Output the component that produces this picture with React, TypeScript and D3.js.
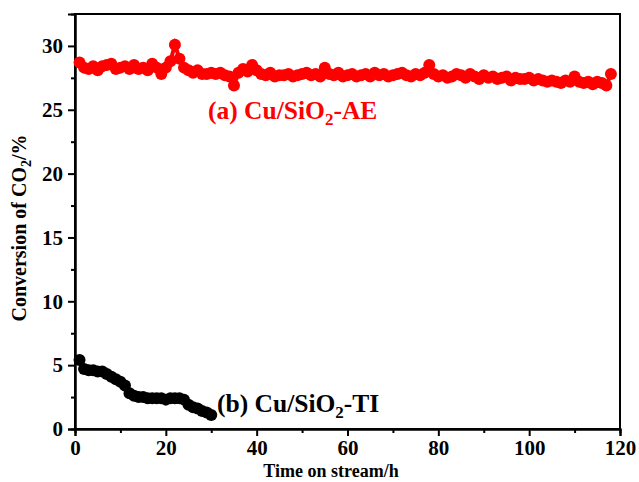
import React, { useEffect, useRef } from 'react';
import * as d3 from 'd3';

// time on stream (h) and CO2 conversion (%)
const timeAE = d3.range(1, 119);
const convAE = [
  28.7, 28.3, 28.2, 28.4, 28.1, 28.4, 28.5, 28.6, 28.2, 28.3,
  28.4, 28.2, 28.5, 28.2, 28.3, 28.1, 28.6, 28.3, 27.8, 28.3,
  28.8, 30.1, 29.0, 28.3, 28.1, 27.9, 28.1, 27.8, 27.8, 27.9,
  27.8, 27.9, 27.7, 27.6, 26.9, 27.9, 28.2, 28.0, 28.5, 28.1,
  27.8, 27.7, 27.9, 27.6, 27.7, 27.7, 27.8, 27.6, 27.7, 27.8,
  27.9, 27.7, 27.8, 27.6, 28.3, 27.8, 27.7, 27.9, 27.6, 27.7,
  27.8, 27.6, 27.7, 27.8, 27.6, 27.9, 27.7, 27.8, 27.6, 27.7,
  27.8, 27.9, 27.7, 27.6, 27.8, 27.7, 27.9, 28.5, 27.8, 27.6,
  27.7, 27.5, 27.6, 27.8, 27.7, 27.5, 27.8, 27.6, 27.4, 27.7,
  27.5, 27.6, 27.4, 27.5, 27.6, 27.3, 27.5, 27.4, 27.4, 27.5,
  27.3, 27.4, 27.3, 27.2, 27.3, 27.2, 27.1, 27.3, 27.2, 27.6,
  27.2, 27.1, 27.2, 27.0, 27.2, 27.1, 26.9, 27.8,
];
const timeTI = d3.range(1, 31);
const convTI = [
  5.4, 4.7, 4.6, 4.6, 4.5, 4.5, 4.3, 4.1, 3.9, 3.7,
  3.4, 2.8, 2.6, 2.5, 2.5, 2.4, 2.4, 2.4, 2.4, 2.3,
  2.4, 2.4, 2.4, 2.3, 1.9, 1.7, 1.6, 1.4, 1.3, 1.1,
];
const xTicks = [0, 20, 40, 60, 80, 100, 120];
const yTicks = [0, 5, 10, 15, 20, 25, 30];

export default function App() {
  const svgRef = useRef<SVGSVGElement>(null);

  useEffect(() => {
    const width = 639;
    const height = 482;
    const m = { left: 75, right: 19, top: 14, bottom: 53 };
    const font = '"Liberation Serif", "Times New Roman", serif';

    const svg = d3.select(svgRef.current)
      .attr('width', width)
      .attr('height', height)
      .style('background', '#fff');
    svg.selectAll('*').remove();

    const x = d3.scaleLinear().domain([0, 120]).range([m.left, width - m.right]);
    const y = d3.scaleLinear().domain([0, 32.5]).range([height - m.bottom, m.top]);

    // frame
    svg.append('rect')
      .attr('x', m.left).attr('y', m.top)
      .attr('width', width - m.left - m.right)
      .attr('height', height - m.top - m.bottom)
      .attr('fill', 'none').attr('stroke', '#000').attr('stroke-width', 2);

    // axes: major + minor ticks, outward
    const xAxis = svg.append('g')
      .attr('transform', `translate(0,${height - m.bottom})`)
      .call(d3.axisBottom(x).tickValues(xTicks).tickSize(7).tickPadding(4));
    svg.append('g')
      .attr('transform', `translate(0,${height - m.bottom})`)
      .call(d3.axisBottom(x).tickValues(d3.range(10, 120, 20)).tickSize(4).tickFormat(() => ''));
    const yAxis = svg.append('g')
      .attr('transform', `translate(${m.left},0)`)
      .call(d3.axisLeft(y).tickValues(yTicks).tickSize(7).tickPadding(5));
    svg.append('g')
      .attr('transform', `translate(${m.left},0)`)
      .call(d3.axisLeft(y).tickValues(d3.range(2.5, 32.5, 5)).tickSize(4).tickFormat(() => ''));

    svg.selectAll('.domain').attr('stroke-width', 2);
    svg.selectAll('.tick line').attr('stroke-width', 2);
    [xAxis, yAxis].forEach(g => g.selectAll('text')
      .attr('font-family', font).attr('font-weight', 'bold').attr('font-size', 21).attr('fill', '#000'));

    // series
    const series = [
      { t: timeAE, v: convAE, color: '#ff0000' },
      { t: timeTI, v: convTI, color: '#000000' },
    ];
    series.forEach(s => {
      const pts = s.t.map((t, i) => [t, s.v[i]] as [number, number]);
      svg.append('path')
        .attr('d', d3.line().x(d => x(d[0])).y(d => y(d[1]))(pts))
        .attr('fill', 'none').attr('stroke', s.color).attr('stroke-width', 4);
      svg.append('g').selectAll('circle')
        .data(pts)
        .join('circle')
          .attr('cx', d => x(d[0]))
          .attr('cy', d => y(d[1]))
          .attr('r', 6)
          .attr('fill', s.color);
    });

    // series labels
    const label = (tx: number, ty: number, pre: string, post: string, color: string) => {
      const t = svg.append('text')
        .attr('x', tx).attr('y', ty)
        .attr('font-family', font).attr('font-weight', 'bold').attr('font-size', 25.5)
        .attr('fill', color);
      t.append('tspan').text(pre);
      t.append('tspan').attr('font-size', 17).attr('dy', 6).text('2');
      t.append('tspan').attr('dy', -6).text(post);
    };
    label(208, 119, '(a) Cu/SiO', '-AE', '#ff0000');
    label(217, 412, '(b) Cu/SiO', '-TI', '#000000');

    // axis titles
    svg.append('text')
      .attr('x', 331).attr('y', 477)
      .attr('text-anchor', 'middle')
      .attr('font-family', font).attr('font-weight', 'bold').attr('font-size', 18)
      .text('Time on stream/h');
    const yl = svg.append('text')
      .attr('transform', 'translate(26,228) rotate(-90)')
      .attr('text-anchor', 'middle')
      .attr('font-family', font).attr('font-weight', 'bold').attr('font-size', 20);
    yl.append('tspan').text('Conversion of CO');
    yl.append('tspan').attr('font-size', 14).attr('dy', 5).text('2');
    yl.append('tspan').attr('dy', -5).text('/%');
  }, []);

  return (
    <div style={{ position: 'absolute', left: 0, top: 0 }}>
      <svg ref={svgRef} style={{ display: 'block' }}></svg>
    </div>
  );
}
